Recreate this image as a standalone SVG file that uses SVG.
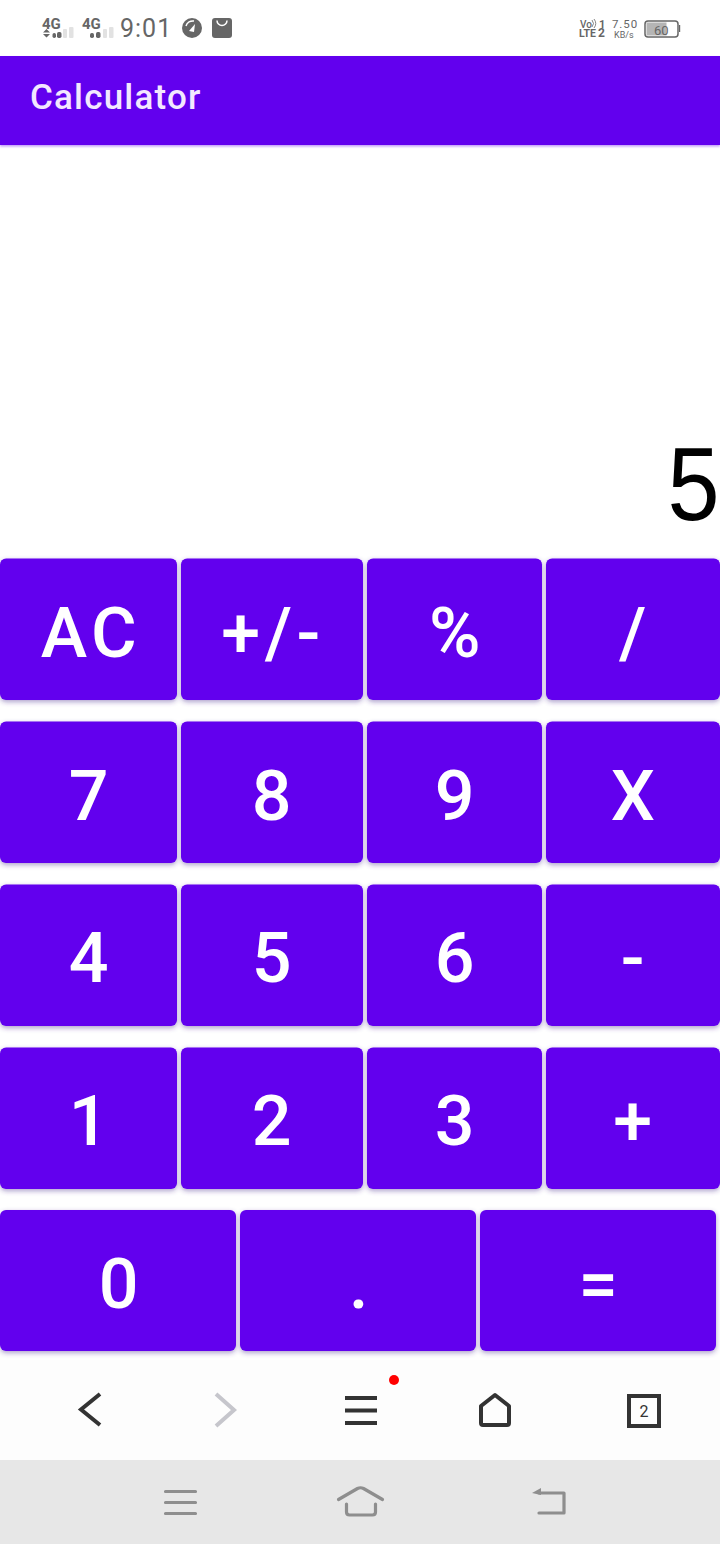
<svg xmlns="http://www.w3.org/2000/svg" width="720" height="1544" viewBox="0 0 720 1544">
<style>
.btn{fill:#6200ee;filter:url(#sh)}
.lbl{font-family:Roboto,"Liberation Sans",sans-serif;font-weight:500;font-size:70px;fill:#fff;text-anchor:middle;letter-spacing:4.5px}
.st{font-family:Roboto,"Liberation Sans",sans-serif;fill:#666}
.nav{fill:none;stroke:#333;stroke-width:4}
.sys{fill:none;stroke:#8e8e8e;stroke-width:3.2;stroke-linecap:round;stroke-linejoin:round}
</style>
<defs>
<filter id="sh" x="-5%" y="-5%" width="110%" height="115%"><feDropShadow dx="0" dy="2" stdDeviation="2.4" flood-color="#4a2a90" flood-opacity=".45"/></filter>
<filter id="bar" x="-1%" y="-10%" width="102%" height="125%"><feDropShadow dx="0" dy="1.5" stdDeviation="1.2" flood-color="#6200ee" flood-opacity=".4"/></filter>
</defs>
<rect width="720" height="1544" fill="#fff"/>
<g id="status-bar">
<text class="st" x="42" y="29" font-size="15" font-weight="700">4G</text>
<path d="M43 32.500l3.500-3.500 3.500 3.500zM43 34l3.500 3.500 3.500-3.500z" fill="#666"/>
<g fill="#666"><rect x="52.500" y="33" width="3.500" height="5" rx="1.700"/><rect x="57" y="32" width="4.500" height="6" rx="1.700"/></g>
<g fill="#e2e2e2"><rect x="63" y="29" width="4" height="9" rx="1"/><rect x="69" y="27" width="4.500" height="11" rx="1"/></g>
<text class="st" x="82" y="29" font-size="15" font-weight="700">4G</text>
<g fill="#666"><rect x="90" y="33" width="4" height="5" rx="1.700"/><rect x="96" y="32" width="4.500" height="6" rx="1.700"/></g>
<g fill="#e2e2e2"><rect x="103" y="29" width="4" height="9" rx="1"/><rect x="109" y="27" width="4.500" height="11" rx="1"/></g>
<text class="st" x="120" y="37" font-size="25" letter-spacing="1">9:01</text>
<circle cx="192" cy="28" r="10" fill="#666"/><path d="M189 31l6-7-1 8z" fill="#fff"/><path d="M186 26a7 7 0 0 1 8-5" fill="none" stroke="#fff" stroke-width="1.500"/>
<rect x="212" y="18" width="20" height="20" rx="3" fill="#666"/><path d="M217 20.500a5 5 0 0 0 10 0" fill="none" stroke="#fff" stroke-width="1.500"/>
<text class="st" x="580" y="27.500" font-size="10" font-weight="500">Vo</text>
<path d="M592 20q3 3.500 0 7M594 19q3.500 4.500 0 9" fill="none" stroke="#666" stroke-width=".8"/>
<text class="st" font-weight="700"><tspan x="599" y="27.500" font-size="11">1</tspan><tspan x="579" y="37" font-size="10.500">LTE</tspan><tspan x="598" y="37" font-size="12">2</tspan></text>
<text class="st" x="612" y="27.500" font-size="11.500" letter-spacing=".9">7.50</text>
<text class="st" x="614" y="37.500" font-size="9">KB/s</text>
<rect x="645" y="21" width="33" height="16" rx="3" fill="#fff" stroke="#666" stroke-width="1.500"/>
<rect x="646.500" y="22.500" width="20" height="13" fill="#b5b5b5"/>
<rect x="679" y="25" width="1.200" height="7" fill="#666"/>
<text class="st" x="654" y="35" font-size="13">60</text>
</g>
<g id="app-bar">
<rect y="56" width="720" height="89" fill="#6200ee" filter="url(#bar)"/>
<text x="30" y="109" font-family="Roboto,'Liberation Sans',sans-serif" font-weight="500" font-size="35" letter-spacing="1.200" fill="#f3e8ff">Calculator</text>
</g>
<g id="display"><text transform="translate(719.500 520) scale(.9 1)" text-anchor="end" font-family="'Liberation Sans',Arial,sans-serif" font-size="104" fill="#000">5</text></g>
<g id="btn-ac"><rect class="btn" x="0" y="558.500" width="177" height="141.500" rx="6"/><text class="lbl" x="91" y="657">AC</text></g>
<g id="btn-sign"><rect class="btn" x="181" y="558.500" width="182" height="141.500" rx="6"/><text class="lbl" x="273" y="657">+/-</text></g>
<g id="btn-percent"><rect class="btn" x="367" y="558.500" width="175" height="141.500" rx="6"/><text class="lbl" x="457" y="657">%</text></g>
<g id="btn-div"><rect class="btn" x="546" y="558.500" width="174" height="141.500" rx="6"/><text class="lbl" x="635" y="657">/</text></g>
<g id="btn-7"><rect class="btn" x="0" y="721.500" width="177" height="141.500" rx="6"/><text class="lbl" x="91" y="820">7</text></g>
<g id="btn-8"><rect class="btn" x="181" y="721.500" width="182" height="141.500" rx="6"/><text class="lbl" x="274" y="820">8</text></g>
<g id="btn-9"><rect class="btn" x="367" y="721.500" width="175" height="141.500" rx="6"/><text class="lbl" x="457" y="820">9</text></g>
<g id="btn-x"><rect class="btn" x="546" y="721.500" width="174" height="141.500" rx="6"/><text class="lbl" x="635" y="820">X</text></g>
<g id="btn-4"><rect class="btn" x="0" y="884.500" width="177" height="141.500" rx="6"/><text class="lbl" x="91" y="982">4</text></g>
<g id="btn-5"><rect class="btn" x="181" y="884.500" width="182" height="141.500" rx="6"/><text class="lbl" x="274" y="982">5</text></g>
<g id="btn-6"><rect class="btn" x="367" y="884.500" width="175" height="141.500" rx="6"/><text class="lbl" x="457" y="982">6</text></g>
<g id="btn-minus"><rect class="btn" x="546" y="884.500" width="174" height="141.500" rx="6"/><text class="lbl" x="635" y="982">-</text></g>
<g id="btn-1"><rect class="btn" x="0" y="1047.500" width="177" height="141.500" rx="6"/><text class="lbl" x="91" y="1145">1</text></g>
<g id="btn-2"><rect class="btn" x="181" y="1047.500" width="182" height="141.500" rx="6"/><text class="lbl" x="274" y="1145">2</text></g>
<g id="btn-3"><rect class="btn" x="367" y="1047.500" width="175" height="141.500" rx="6"/><text class="lbl" x="457" y="1145">3</text></g>
<g id="btn-plus"><rect class="btn" x="546" y="1047.500" width="174" height="141.500" rx="6"/><text class="lbl" x="635" y="1145">+</text></g>
<g id="btn-0"><rect class="btn" x="0" y="1210" width="236" height="141" rx="6"/><text class="lbl" x="121" y="1308">0</text></g>
<g id="btn-dot"><rect class="btn" x="240" y="1210" width="236" height="141" rx="6"/><text class="lbl" x="361" y="1308">.</text></g>
<g id="btn-eq"><rect class="btn" x="480" y="1210" width="236" height="141" rx="6"/><text class="lbl" x="600.500" y="1308">=</text></g>
<g id="browser-nav">
<rect y="1360" width="720" height="100" fill="#fdfdfd"/>
<path class="nav" d="M100 1394l-19 15.500 19 15.500"/>
<path class="nav" style="stroke:#c6c6cc" d="M216 1394l18 16-18 16"/>
<path class="nav" stroke-width="3.600" d="M345 1398h32M345 1410.500h32M345 1423h32"/>
<circle cx="394" cy="1380" r="5" fill="#f00"/>
<path class="nav" stroke-linejoin="round" d="M495 1395l-14 11v17a2 2 0 0 0 2 2h24a2 2 0 0 0 2-2v-17z"/>
<rect x="629" y="1396" width="30" height="30" fill="none" stroke="#333" stroke-width="4"/>
<text x="644" y="1417" text-anchor="middle" font-family="Roboto,'Liberation Sans',sans-serif" font-size="16" fill="#333">2</text>
</g>
<g id="system-nav">
<rect y="1460" width="720" height="84" fill="#e7e7e7"/>
<path class="sys" d="M165.500 1491.500h30M165.500 1502.500h30M165.500 1513.500h30"/>
<path class="sys" d="M338.500 1499.500l19-11q3-1.500 6 0l19 11M346.500 1504v8q0 3 3 3h23q3 0 3-3v-8"/>
<path class="sys" d="M539 1493h25v20h-25"/>
<path d="M532 1493l9-5v7z" fill="#8e8e8e"/>
</g>
</svg>
